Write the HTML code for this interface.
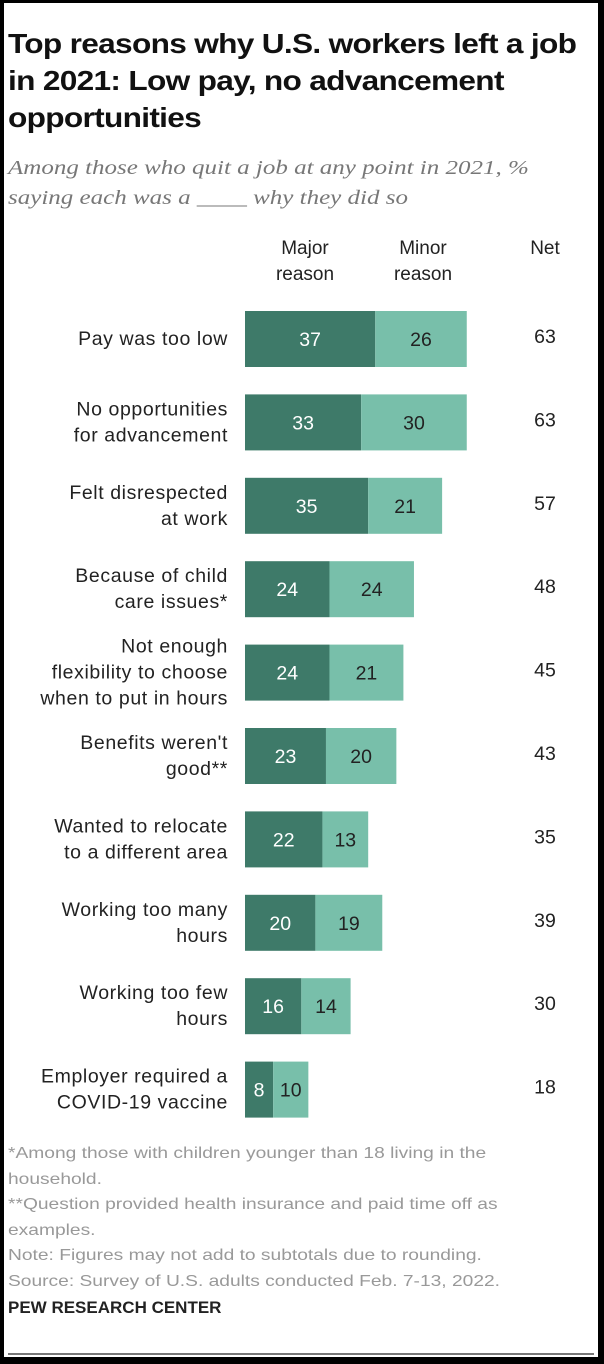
<!DOCTYPE html>
<html><head><meta charset="utf-8"><style>
html,body{margin:0;padding:0;}
body{width:604px;height:1364px;background:#000;position:relative;overflow:hidden;font-family:"Liberation Sans",sans-serif;}
#card{position:absolute;left:4px;top:3px;width:594px;height:1354px;background:#fff;}
.t{position:absolute;white-space:nowrap;transform-origin:0 0;}
</style></head><body>
<div id="card">
<div class="t" style="left:4px;top:22px;font-size:27.5px;font-weight:bold;line-height:37px;color:#111;letter-spacing:-0.6px;transform:scaleX(1.15);">Top reasons why U.S. workers left a job<br>in 2021: Low pay, no advancement<br>opportunities</div>
<div class="t" style="left:4px;top:150px;font-family:'Liberation Serif',serif;font-style:italic;font-size:20px;line-height:30px;color:#777;transform:scaleX(1.25);">Among those who quit a job at any point in 2021, %<br>saying each was a ____ why they did so</div>
<div class="t" style="left:251px;top:233px;width:100px;text-align:center;font-size:19px;line-height:26px;color:#222;">Major<br>reason</div>
<div class="t" style="left:369px;top:233px;width:100px;text-align:center;font-size:19px;line-height:26px;color:#222;">Minor<br>reason</div>
<div class="t" style="left:511px;top:233px;width:60px;text-align:center;font-size:19px;line-height:26px;color:#222;">Net</div>
<svg id="chart" width="594" height="1354" style="position:absolute;left:0;top:0;"></svg>
<div class="t" style="left:4px;top:1138px;font-size:16px;line-height:25.6px;color:#999;transform:scaleX(1.2);">*Among those with children younger than 18 living in the<br>household.<br>**Question provided health insurance and paid time off as<br>examples.<br>Note: Figures may not add to subtotals due to rounding.<br>Source: Survey of U.S. adults conducted Feb. 7-13, 2022.</div>
<div class="t" style="left:4px;top:1295px;font-size:17px;font-weight:bold;color:#222;">PEW RESEARCH CENTER</div>
<div style="position:absolute;left:4px;right:4px;top:1350px;height:2px;background:#777;"></div>
</div>
<script>
const categories=[["Pay was too low"],["No opportunities","for advancement"],["Felt disrespected","at work"],["Because of child","care issues*"],["Not enough","flexibility to choose","when to put in hours"],["Benefits weren't","good**"],["Wanted to relocate","to a different area"],["Working too many","hours"],["Working too few","hours"],["Employer required a","COVID-19 vaccine"]];
const majorValues=[37,33,35,24,24,23,22,20,16,8];
const minorValues=[26,30,21,24,21,20,13,19,14,10];
const netValues=[63,63,57,48,45,43,35,39,30,18];
const svg=document.getElementById('chart');
const NS='http://www.w3.org/2000/svg';
const x0=241, scale=3.52;
function xPos(v){return x0+v*scale;}
function yCenter(i){return 336+i*83.4;}
const barH=56;
function mk(tag,attrs,txt){const e=document.createElementNS(NS,tag);for(const k in attrs)e.setAttribute(k,attrs[k]);if(txt!==undefined)e.textContent=txt;svg.appendChild(e);return e;}
categories.forEach((lines,i)=>{
  const cy=yCenter(i);
  const r1=mk('rect',{x:xPos(0),y:cy-barH/2,width:xPos(majorValues[i])-xPos(0),height:barH,fill:'#3e7a69'});
  
  
  const r2=mk('rect',{x:xPos(majorValues[i]),y:cy-barH/2,width:xPos(majorValues[i]+minorValues[i])-xPos(majorValues[i]),height:barH,fill:'#78bfaa'});
  
  
  const t1=mk('text',{x:(xPos(0)+xPos(majorValues[i]))/2,y:cy+7,'text-anchor':'middle','font-size':19.5,fill:'#fff','font-family':'Liberation Sans, sans-serif'},majorValues[i]);
  
  
  const t2=mk('text',{x:(xPos(majorValues[i])+xPos(majorValues[i]+minorValues[i]))/2,y:cy+7,'text-anchor':'middle','font-size':19.5,fill:'#222','font-family':'Liberation Sans, sans-serif'},minorValues[i]);
  
  
  const t3=mk('text',{x:541,y:cy+4,'text-anchor':'middle','font-size':19.5,fill:'#222','font-family':'Liberation Sans, sans-serif'},netValues[i]);
  
  
  const lh=26, start=cy-(lines.length-1)*lh/2+6;
  lines.forEach((ln,j)=>{
    const tl=mk('text',{x:224,y:start+j*lh,'text-anchor':'end','font-size':19.5,'letter-spacing':0.6,fill:'#222','font-family':'Liberation Sans, sans-serif'},ln);
    
    
  });
});
</script>
</body></html>
